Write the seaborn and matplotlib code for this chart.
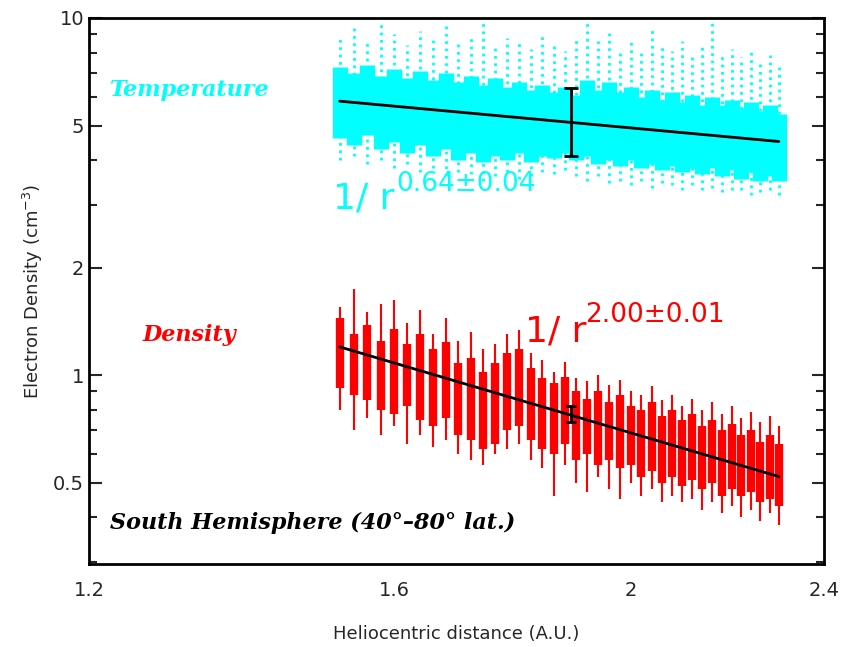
import numpy as np
import matplotlib
matplotlib.use("Agg")
import matplotlib.pyplot as plt
import matplotlib.ticker as mticker
import seaborn as sns

# --- data (log-log axes) ---
r_bins = [1.52, 1.54, 1.56, 1.58, 1.60, 1.62, 1.64, 1.66, 1.68, 1.70,
          1.72, 1.74, 1.76, 1.78, 1.80, 1.82, 1.84, 1.86, 1.88, 1.90,
          1.92, 1.94, 1.96, 1.98, 2.00, 2.02, 2.04, 2.06, 2.08, 2.10,
          2.12, 2.14, 2.16, 2.18, 2.20, 2.22, 2.24, 2.26, 2.28, 2.30]

# temperature cloud: dense core and sparse dotted extent
temp_hi = [7.3, 7.0, 7.4, 6.9, 7.2, 6.8, 7.1, 6.7, 7.0, 6.6,
           6.9, 6.5, 6.8, 6.4, 6.6, 6.3, 6.5, 6.2, 6.4, 6.1,
           6.7, 6.3, 6.6, 6.2, 6.4, 6.0, 6.3, 5.9, 6.2, 5.8,
           6.1, 5.7, 6.0, 5.7, 5.9, 5.6, 5.8, 5.5, 5.7, 5.4]
temp_lo = [4.6, 4.4, 4.7, 4.3, 4.5, 4.2, 4.4, 4.1, 4.3, 4.0,
           4.2, 3.95, 4.1, 4.0, 4.2, 3.95, 4.1, 4.05, 4.2, 4.0,
           4.1, 3.9, 4.0, 3.85, 4.0, 3.8, 3.9, 3.75, 3.85, 3.7,
           3.8, 3.65, 3.8, 3.6, 3.75, 3.55, 3.7, 3.5, 3.6, 3.5]
temp_top = [8.8, 9.4, 8.6, 9.8, 9.0, 8.4, 9.2, 8.7, 9.6, 8.5,
            8.9, 9.9, 8.3, 8.8, 8.6, 8.2, 9.0, 8.4, 8.1, 8.7,
            9.7, 8.6, 9.3, 8.2, 8.8, 8.0, 9.5, 8.3, 8.1, 8.6,
            7.9, 8.4, 9.9, 8.0, 8.2, 7.8, 8.1, 7.6, 7.9, 7.5]
temp_bot = [4.0, 4.1, 3.9, 4.0, 3.8, 3.9, 3.7, 3.8, 3.6, 3.7,
            3.65, 3.5, 3.6, 3.7, 3.55, 3.6, 3.7, 3.65, 3.75, 3.6,
            3.5, 3.6, 3.45, 3.5, 3.4, 3.5, 3.35, 3.45, 3.4, 3.3,
            3.4, 3.3, 3.35, 3.25, 3.3, 3.3, 3.2, 3.25, 3.3, 3.2]

# density cloud: core dashes and thin spikes
dens_hi = [1.45, 1.30, 1.38, 1.25, 1.35, 1.22, 1.30, 1.18, 1.24, 1.08,
           1.12, 1.02, 1.08, 1.15, 1.18, 1.05, 0.98, 0.95, 0.99, 0.90,
           0.86, 0.90, 0.84, 0.88, 0.82, 0.80, 0.84, 0.77, 0.80, 0.75,
           0.78, 0.72, 0.75, 0.70, 0.73, 0.68, 0.70, 0.65, 0.68, 0.64]
dens_lo = [0.92, 0.88, 0.85, 0.80, 0.78, 0.82, 0.75, 0.72, 0.76, 0.68,
           0.66, 0.62, 0.64, 0.70, 0.72, 0.66, 0.62, 0.60, 0.64, 0.58,
           0.60, 0.56, 0.58, 0.55, 0.56, 0.52, 0.54, 0.50, 0.52, 0.49,
           0.51, 0.48, 0.50, 0.46, 0.48, 0.46, 0.47, 0.44, 0.45, 0.43]
dens_top = [1.55, 1.74, 1.50, 1.58, 1.62, 1.40, 1.52, 1.30, 1.45, 1.25,
            1.32, 1.18, 1.22, 1.30, 1.34, 1.15, 1.10, 1.02, 1.09, 0.98,
            0.96, 1.00, 0.94, 0.97, 0.90, 0.88, 0.93, 0.85, 0.88, 0.82,
            0.86, 0.80, 0.84, 0.78, 0.82, 0.76, 0.79, 0.74, 0.77, 0.72]
dens_bot = [0.80, 0.70, 0.76, 0.68, 0.72, 0.64, 0.68, 0.63, 0.66, 0.60,
            0.58, 0.56, 0.60, 0.62, 0.64, 0.58, 0.55, 0.46, 0.56, 0.50,
            0.47, 0.52, 0.48, 0.45, 0.50, 0.46, 0.48, 0.44, 0.46, 0.44,
            0.45, 0.42, 0.44, 0.41, 0.43, 0.40, 0.42, 0.39, 0.41, 0.38]

# power-law fits and representative error bars
fit_r = [1.52, 2.30]
temp_fit = [5.85, 4.51]
dens_fit = [1.20, 0.52]
err_r = 1.89
temp_err = (4.12, 6.36)
dens_err = (0.74, 0.82)

y_ticks = [0.5, 1, 2, 5, 10]
y_labels = ["0.5", "1", "2", "5", "10"]
x_ticks = [1.2, 1.6, 2.0, 2.4]
x_labels = ["1.2", "1.6", "2", "2.4"]

CYAN = "#00ffff"
RED = "#ff0000"

sns.set_style("ticks")
plt.rcParams["font.family"] = ["DejaVu Sans"]

fig = plt.figure(figsize=(8.44, 6.47), dpi=100)
ax = fig.add_axes([0.1055, 0.1283, 0.8708, 0.8439])
ax.set_xscale("log")
ax.set_yscale("log")

# temperature
ax.vlines(r_bins, temp_bot, temp_top, colors=CYAN, linestyles=":", lw=2.0)
ax.vlines(r_bins, temp_lo, temp_hi, colors=CYAN, lw=11)

# density
ax.vlines(r_bins, dens_bot, dens_top, colors=RED, lw=1.5)
ax.vlines(r_bins, dens_lo, dens_hi, colors=RED, lw=6)

# fits
sns.lineplot(x=fit_r, y=temp_fit, color="black", lw=2, ax=ax)
sns.lineplot(x=fit_r, y=dens_fit, color="black", lw=2, ax=ax)


def draw_err(lo_hi, cap):
    lo, hi = lo_hi
    ax.vlines(err_r, lo, hi, colors="black", lw=2)
    ax.plot([err_r, err_r], [lo, hi], ls="none", marker="_", ms=cap,
            mew=2, color="black")


draw_err(temp_err, 10)
draw_err(dens_err, 7)

# annotations
serif = dict(family="DejaVu Serif", style="italic", weight="bold", fontsize=16)
ax.text(1.224, 6.28, "Temperature", color=CYAN, va="center", **serif)
ax.text(1.262, 1.295, "Density", color=RED, va="center", **serif)
ax.text(1.224, 0.386, "South Hemisphere (40\u00b0\u201380\u00b0 lat.)",
        color="black", va="center", **serif)

ax.text(1.511, 2.93, "1/ r", color=CYAN, fontsize=26, va="baseline")
ax.text(1.603, 3.27, "0.64\u00b10.04", color=CYAN, fontsize=19, va="baseline")
ax.text(1.811, 1.246, "1/ r", color=RED, fontsize=26, va="baseline")
ax.text(1.915, 1.41, "2.00\u00b10.01", color=RED, fontsize=19, va="baseline")

# axes
ax.set_xlim(1.2, 2.4)
ax.set_ylim(0.296, 10)
ax.yaxis.set_major_locator(mticker.FixedLocator(y_ticks))
ax.yaxis.set_major_formatter(mticker.FixedFormatter(y_labels))
ax.yaxis.set_minor_locator(mticker.LogLocator(subs=np.arange(2, 10)))
ax.yaxis.set_minor_formatter(mticker.NullFormatter())
ax.xaxis.set_major_locator(mticker.FixedLocator(x_ticks))
ax.xaxis.set_major_formatter(mticker.FixedFormatter(x_labels))
ax.xaxis.set_minor_locator(mticker.FixedLocator([2.0]))
ax.xaxis.set_minor_formatter(mticker.NullFormatter())

ax.tick_params(axis="y", which="both", direction="in", left=True, right=True,
               labelsize=14, width=1.5)
ax.tick_params(axis="y", which="major", length=9)
ax.tick_params(axis="y", which="minor", length=6)
ax.tick_params(axis="x", which="major", length=0, labelsize=14, pad=12)
ax.tick_params(axis="x", which="minor", direction="in", top=True, bottom=True,
               length=7, width=1.5)
for s in ax.spines.values():
    s.set_linewidth(2)
    s.set_color("black")

ax.set_xlabel("Heliocentric distance (A.U.)", fontsize=13, labelpad=18)
ax.set_ylabel("Electron Density (cm$^{-3}$)", fontsize=13, labelpad=6)

fig.savefig("out.png", dpi=100)
